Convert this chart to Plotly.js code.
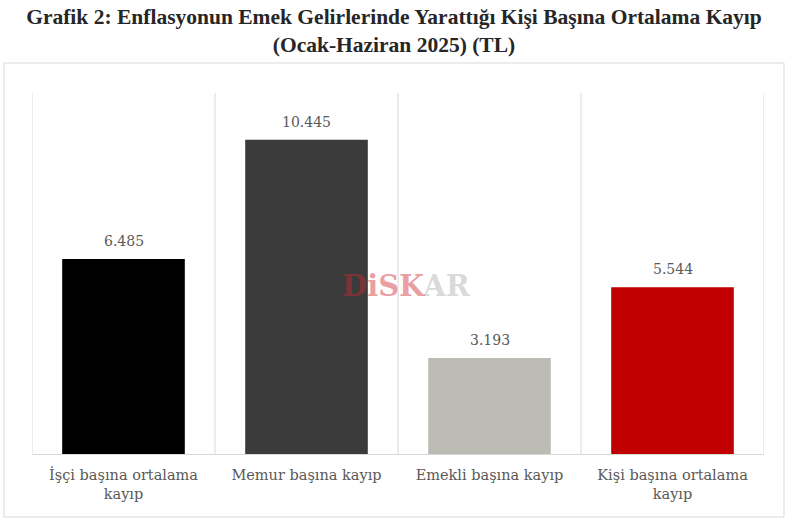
<!DOCTYPE html>
<html>
<head>
<meta charset="utf-8">
<script src="https://cdn.plot.ly/plotly-3.0.1.min.js"></script>
<style>html,body{margin:0;padding:0;background:#fff;}#chart{width:788px;height:522px;}</style>
</head>
<body>
<div id="chart"></div>
<script>
const categories = ["İşçi başına ortalama<br>kayıp", "Memur başına kayıp", "Emekli başına kayıp", "Kişi başına ortalama<br>kayıp"];
const values = [6485, 10445, 3193, 5544];
const valueLabels = ["6.485", "10.445", "3.193", "5.544"];
const barColors = ["#000000", "#3b3b3b", "#bcbcb5", "#c00000"];

const serif = "DejaVu Serif, Liberation Serif, serif";

const trace = {
  type: "bar",
  x: categories,
  y: values,
  marker: {color: barColors},
  width: 0.67,
  hoverinfo: "skip"
};

const shapes = [];
[-0.5, 0.5, 1.5, 2.5, 3.5].forEach(v => shapes.push({
  type: "line", xref: "x", yref: "paper", x0: v, x1: v, y0: 0, y1: 1,
  line: {color: "#d9d9d9", width: 1}, layer: "below"
}));
shapes.push({
  type: "rect", xref: "paper", yref: "paper",
  x0: (4 - 32) / 732, x1: (784 - 32) / 732,
  y0: (454 - 517) / 361, y1: (454 - 63) / 361,
  line: {color: "#d9d9d9", width: 1}, layer: "below"
});

const annotations = categories.map((c, i) => ({
  xref: "x", yref: "y", x: c, y: values[i],
  xanchor: "center", yanchor: "bottom", yshift: 8,
  showarrow: false, text: valueLabels[i],
  font: {family: serif, size: 14, color: "#595959"}
}));
annotations.push({
  xref: "paper", yref: "paper",
  x: (406 - 32) / 732, y: (454 - 286) / 361,
  xanchor: "center", yanchor: "middle",
  showarrow: false,
  text: "<b><span style='color:rgba(205,40,50,0.45)'>DiSK</span><span style='color:rgba(150,150,150,0.35)'>AR</span></b>",
  font: {family: "DejaVu Serif, serif", size: 29}
});

const layout = {
  width: 788, height: 522,
  margin: {l: 32, r: 24, t: 93, b: 68},
  paper_bgcolor: "#ffffff", plot_bgcolor: "#ffffff",
  showlegend: false,
  title: {
    text: "<b>Grafik 2: Enflasyonun Emek Gelirlerinde Yarattığı Kişi Başına Ortalama Kayıp<br>(Ocak-Haziran 2025) (TL)</b>",
    font: {family: "Liberation Serif, serif", size: 21.5, color: "#262626"},
    x: 0.5, xanchor: "center", yref: "container", y: 1 - 24 / 522, yanchor: "middle"
  },
  xaxis: {
    type: "category",
    showgrid: false,
    showline: true, linecolor: "#d9d9d9", linewidth: 1,
    ticks: "", ticklabelstandoff: 8,
    tickfont: {family: serif, size: 14.5, color: "#595959"},
    range: [-0.5, 3.5]
  },
  yaxis: {
    range: [0, 12000],
    showgrid: false, zeroline: false, showline: false,
    showticklabels: false, ticks: ""
  },
  shapes: shapes,
  annotations: annotations
};

Plotly.newPlot("chart", [trace], layout, {displayModeBar: false, staticPlot: true});
</script>
</body>
</html>
